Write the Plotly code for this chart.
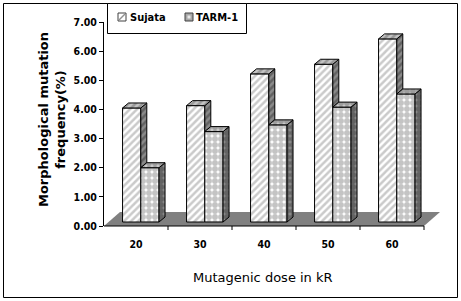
import plotly.graph_objects as go

# ---- data ----
doses = ["20", "30", "40", "50", "60"]
sujata = [4.05, 4.13, 5.22, 5.55, 6.42]
tarm1 = [2.00, 3.24, 3.47, 4.08, 4.53]
y_ticks = [0, 1, 2, 3, 4, 5, 6, 7]

# ---- geometry (pixels -> data) ----
L, R, T, B = 104, 21, 22, 75
W, H = 461, 301
PW, PH = W - L - R, H - T - B
XR = [-0.5, 4.75]
YR = [0, 7]
PXX = PW / (XR[1] - XR[0])
PXY = PH / (YR[1] - YR[0])

def xp(px):
    return (px - L) / PW

def yp(py):
    return (H - B - py) / PH

base = 4 / PXY
offS = -0.21
bw = 0.285
dx = 6 / PXX
dy = 5 / PXY
fdx = 16 / PXX
fdy = 14 / PXY

xs = list(range(len(doses)))

STRIPE = dict(shape="/", size=5, solidity=0.5)
CHECK = dict(shape=".", size=6, solidity=0.75)

fig = go.Figure()

fig.add_trace(go.Bar(
    x=xs, y=[v - base for v in sujata], base=base, offset=offS, width=bw,
    name="Sujata",
    marker=dict(color="white", line=dict(color="black", width=1),
                pattern=dict(fgcolor="#969696", bgcolor="white", fillmode="overlay", **STRIPE)),
    showlegend=False))
fig.add_trace(go.Bar(
    x=xs, y=[v - base for v in tarm1], base=base, offset=offS + bw, width=bw,
    name="TARM-1",
    marker=dict(color="white", line=dict(color="black", width=1),
                pattern=dict(fgcolor="#8a8a8a", bgcolor="white", fillmode="overlay", **CHECK)),
    showlegend=False))

def poly_trace(polys, fg, bg, pat):
    px_, py_ = [], []
    for poly in polys:
        for (a, b) in poly:
            px_.append(a)
            py_.append(b)
        px_.append(poly[0][0]); py_.append(poly[0][1])
        px_.append(None); py_.append(None)
    return go.Scatter(x=px_, y=py_, mode="lines", fill="toself",
                      fillcolor=bg,
                      fillpattern=dict(fgcolor=fg, bgcolor=bg, fillmode="overlay", **pat),
                      line=dict(color="black", width=1),
                      hoverinfo="skip", showlegend=False)

s_top, s_side, t_top, t_side = [], [], [], []
for i, (s, t) in enumerate(zip(sujata, tarm1)):
    x0 = i + offS
    x1 = x0 + bw
    x2 = x1 + bw
    s_top.append([(x0, s), (x1, s), (x1 + dx, s + dy), (x0 + dx, s + dy)])
    lo = max(t, base)
    if s > lo:
        s_side.append([(x1, lo), (x1, s), (x1 + dx, s + dy), (x1 + dx, lo + dy)])
    t_top.append([(x1, t), (x2, t), (x2 + dx, t + dy), (x1 + dx, t + dy)])
    t_side.append([(x2, base), (x2, t), (x2 + dx, t + dy), (x2 + dx, base + dy)])

fig.add_trace(poly_trace(s_side, "#3a3a3a", "#8a8a8a", STRIPE))
fig.add_trace(poly_trace(s_top, "#6e6e6e", "#c4c4c4", STRIPE))
fig.add_trace(poly_trace(t_side, "#3a3a3a", "#8a8a8a", CHECK))
fig.add_trace(poly_trace(t_top, "#6e6e6e", "#cccccc", CHECK))

shapes = []
# floor
shapes.append(dict(type="path", xref="x", yref="y", layer="below",
                   path=f"M {-0.5},{0} L {4.5},{0} L {4.5 + fdx},{fdy} L {-0.5 + fdx},{fdy} Z",
                   fillcolor="#808080", line=dict(width=0)))
# x axis line and ticks
shapes.append(dict(type="line", xref="x", yref="paper", x0=-0.5, x1=4.5, y0=0, y1=0,
                   line=dict(color="black", width=1)))
for k in range(len(doses)):
    shapes.append(dict(type="line", xref="x", yref="paper", x0=k + 0.5, x1=k + 0.5,
                       y0=0, y1=-4 / PH, line=dict(color="black", width=1)))
# outer frame
shapes.append(dict(type="rect", xref="paper", yref="paper",
                   x0=xp(3.5), x1=xp(457.5), y0=yp(297.5), y1=yp(3.5),
                   line=dict(color="black", width=1), fillcolor="rgba(0,0,0,0)"))
# legend box
shapes.append(dict(type="rect", xref="paper", yref="paper",
                   x0=xp(107.5), x1=xp(246.5), y0=yp(33.5), y1=yp(3.5),
                   line=dict(color="black", width=1), fillcolor="white"))
# legend swatches
shapes.append(dict(type="rect", xref="paper", yref="paper",
                   x0=xp(118), x1=xp(126), y0=yp(21), y1=yp(13),
                   line=dict(color="#404040", width=1), fillcolor="white"))
shapes.append(dict(type="line", xref="paper", yref="paper",
                   x0=xp(119), x1=xp(125), y0=yp(20), y1=yp(14),
                   line=dict(color="#909090", width=1.5)))
shapes.append(dict(type="rect", xref="paper", yref="paper",
                   x0=xp(185), x1=xp(193), y0=yp(21), y1=yp(13),
                   line=dict(color="#404040", width=1), fillcolor="#a8a8a8"))
shapes.append(dict(type="rect", xref="paper", yref="paper",
                   x0=xp(187.5), x1=xp(190.5), y0=yp(18.5), y1=yp(15.5),
                   line=dict(width=0), fillcolor="#e8e8e8"))

tick_font = dict(family="DejaVu Sans Condensed, Liberation Sans Narrow, sans-serif",
                 size=10.5, color="black", weight="bold")
leg_font = dict(family="DejaVu Sans Condensed, DejaVu Sans, sans-serif", size=11,
                color="black", weight="bold")

annotations = [
    dict(text="Sujata", xref="paper", yref="paper", x=xp(128), y=yp(17),
         xanchor="left", yanchor="middle", showarrow=False, font=leg_font),
    dict(text="TARM-1", xref="paper", yref="paper", x=xp(194), y=yp(17),
         xanchor="left", yanchor="middle", showarrow=False, font=leg_font),
    dict(text="Morphological mutation<br>frequency(%)", xref="paper", yref="paper",
         x=xp(52), y=yp(120), xanchor="center", yanchor="middle", textangle=-90,
         showarrow=False,
         font=dict(family="DejaVu Sans, sans-serif", size=13, color="black", weight="bold")),
    dict(text="Mutagenic dose in kR", xref="paper", yref="paper",
         x=xp(263), y=yp(277), xanchor="center", yanchor="middle", showarrow=False,
         font=dict(family="DejaVu Sans, sans-serif", size=13, color="black")),
]

fig.update_layout(
    width=W, height=H,
    margin=dict(l=L, r=R, t=T, b=B, pad=0),
    paper_bgcolor="white", plot_bgcolor="white",
    barmode="overlay",
    showlegend=False,
    shapes=shapes,
    annotations=annotations,
    xaxis=dict(range=XR, tickvals=xs, ticktext=doses, showgrid=False, zeroline=False,
               showline=False, ticks="", tickfont=tick_font, ticklabelstandoff=10,
               fixedrange=True),
    yaxis=dict(range=YR, tickvals=y_ticks, tickformat=".2f", showgrid=False,
               zeroline=False, showline=True, linecolor="black", linewidth=1,
               ticks="outside", ticklen=4, tickcolor="black", tickfont=tick_font,
               fixedrange=True),
)

fig.write_html("out.html", config={"displayModeBar": False},
               post_script="document.body.style.margin='0';document.body.style.padding='0';")
